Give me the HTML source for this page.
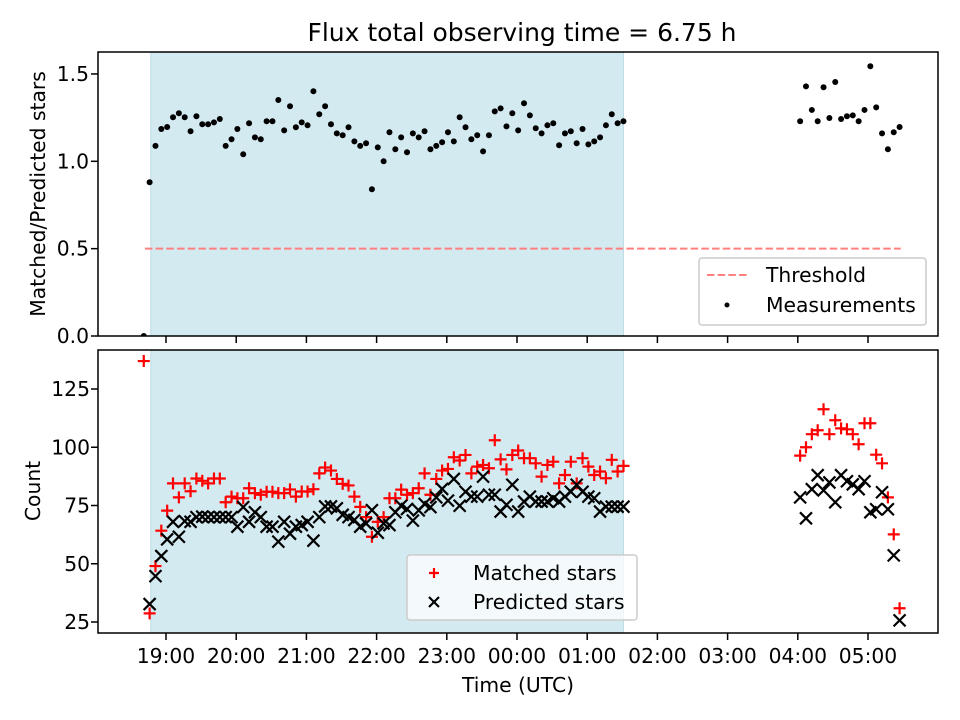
<!DOCTYPE html>
<html><head><meta charset="utf-8"><style>
html,body{margin:0;padding:0;background:#fff;}
svg{display:block;font-family:"DejaVu Sans","Liberation Sans",sans-serif;}
</style></head><body>
<svg id="chart" width="960" height="720" viewBox="0 0 960 720" xmlns="http://www.w3.org/2000/svg">
<rect x="0" y="0" width="960" height="720" fill="#fff"/>
<text x="522" y="41" font-size="25" text-anchor="middle">Flux total observing time = 6.75 h</text>
<g id="top"></g><g id="bot"></g>
</svg>
<script>
// time of each sample, minutes after 18:00 UTC
const times=[41,46,51,56,61,66,71,76,81,86,91,96,101,106,111,116,121,126,131,136,141,146,151,156,161,166,171,176,181,186,191,196,201,206,211,216,221,226,231,236,241,246,251,256,261,266,271,276,281,286,291,296,301,306,311,316,321,326,331,336,341,346,351,356,361,366,371,376,381,386,391,396,401,406,411,416,421,426,431,436,441,446,451,
602,607,612,617,622,627,632,637,642,647,652,657,662,667,672,677,682,687];
const ratio=[0,
0.88,1.088,1.185,1.196,1.252,1.275,1.252,1.172,1.258,1.212,1.212,1.223,1.242,1.088,1.126,1.185,1.040,1.218,1.137,1.126,1.229,1.229,1.351,1.177,1.315,1.195,1.223,1.206,1.401,1.269,1.315,1.212,1.160,1.149,1.195,1.114,1.088,1.103,0.840,1.080,1.000,
1.166,1.069,1.137,1.052,1.160,1.137,1.172,1.069,1.088,1.109,1.166,1.114,1.252,1.195,1.126,1.149,1.057,1.149,1.286,1.303,1.200,1.275,1.177,1.332,1.263,1.189,1.160,1.206,1.218,1.092,1.160,1.172,1.103,1.185,1.097,1.114,1.137,1.206,1.269,1.218,1.229,
1.229,1.429,1.294,1.229,1.424,1.248,1.454,1.242,1.258,1.263,1.229,1.294,1.544,1.309,1.160,1.069,1.166,1.196];
const matched=[137,
28.7,49,64.2,72.8,84.5,78.5,84.5,81.1,86.6,85.6,84.5,86.6,86.6,76.4,78.8,78.1,78.1,82.4,80.3,79.6,80.9,80.9,80.3,80.3,81.9,78.8,81,
81,82,88.8,91.3,90,86.4,84.3,83.6,78.8,74.4,70,61.6,68,70,78.1,78.1,81.8,79.6,80.3,82.4,88.8,79.6,86.4,90,90.7,95.7,94.3,
96.7,88.8,91.7,92.4,91,103,94.8,90.5,96.7,98.6,95.3,95.3,93.1,87.4,92.4,93.8,84.5,88.1,93.8,84.5,95.3,91.7,88.1,89.6,86.7,94.6,89.6,92,
96.4,100,105.6,107.3,116.3,105.6,111.6,108.1,107.7,105.6,101.3,110.3,110.3,96.8,93.1,78.5,62.6,30.9];
const predicted=[null,
32.7,44.7,53.3,60.5,68,61.6,68.3,68,70,70.2,70,70,70,70,70,65.9,74.3,68,72.1,70,65.9,65.9,59.5,68,62.9,65.9,66.6,
68,59.9,70,74.6,74.6,73.8,71,70,68.8,65.9,67.3,73,63.3,67.3,66.6,72.1,74.9,73.5,68.5,72.9,75.7,74.3,78.5,82.1,77.1,86.4,74.9,
80.9,78.8,78.8,87.4,79.6,79.6,72.4,75.3,83.9,72.4,76.7,78.8,76.7,76.7,76.7,78.1,76.7,78.8,80.9,83.9,80.9,78.8,78.1,72.4,74.5,74.5,74.5,74.5,
78.5,69.5,82,88,81.5,84.9,76.4,88,85.4,84.1,82,85.4,72.1,73.4,80.7,73.4,53.6,25.7];
const xTickLabels=["19:00","20:00","21:00","22:00","23:00","00:00","01:00","02:00","03:00","04:00","05:00"];
const xTickMinutes=[60,120,180,240,300,360,420,480,540,600,660];
const topTicks=[0,0.5,1.0,1.5];
const botTicks=[25,50,75,100,125];
const threshold=0.5, thrStart=42, thrEnd=688;
const shadeStart=47, shadeEnd=451;

const NS="http://www.w3.org/2000/svg";
const L=98,R=938,FS=20.3;
function X(m){return 95.8+70.2*m/60;}
function YT(v){return 336-174.7*v;}
function YB(v){return 622-2.33*(v-25);}
function el(p,tag,at,txt){const e=document.createElementNS(NS,tag);for(const k in at)e.setAttribute(k,at[k]);if(txt!==undefined)e.textContent=txt;p.appendChild(e);return e;}

function axesFrame(g,top,bot,name){
  const r=el(g,'rect',{x:L,y:top,width:R-L,height:bot-top,fill:'none',stroke:'#000','stroke-width':1.5});
  
  
  xTickMinutes.forEach((m)=>{const t=el(g,'line',{x1:X(m),x2:X(m),y1:bot,y2:bot+7,stroke:'#000','stroke-width':1.5});
    
    });
}
function shade(g,top,bot){
  const s=el(g,'rect',{x:X(shadeStart),y:top,width:X(shadeEnd)-X(shadeStart),height:bot-top,fill:'#d4eaf1',stroke:'#bcdce6','stroke-width':1});
  
  
}
// TOP
const gt=document.getElementById('top');
const tTop=52,tBot=336;
shade(gt,tTop,tBot);
const thr=el(gt,'line',{x1:X(thrStart),x2:X(thrEnd),y1:YT(threshold),y2:YT(threshold),stroke:'#ff8080','stroke-width':2,'stroke-dasharray':'7.5,3.2'});


const clipT=el(gt,'clipPath',{id:'ct'});el(clipT,'rect',{x:L,y:tTop,width:R-L,height:tBot-tTop});
const pts=el(gt,'g',{'clip-path':'url(#ct)'});
times.forEach((m,i)=>{const c=el(pts,'circle',{cx:X(m),cy:YT(ratio[i]),r:3,fill:'#000'});
  
  });
axesFrame(gt,tTop,tBot,'top-axes');
topTicks.forEach(v=>{const y=YT(v);el(gt,'line',{x1:L-7,x2:L,y1:y,y2:y,stroke:'#000','stroke-width':1.5});
  const t=el(gt,'text',{x:L-9,y:y+7,'font-size':FS,'text-anchor':'end'},v.toFixed(1));
  
  });
const yl1=el(gt,'text',{x:0,y:0,'font-size':FS,'text-anchor':'middle',transform:'translate(45,194) rotate(-90)'},'Matched/Predicted stars');


// top legend
const lg1=el(gt,'g',{});


el(lg1,'rect',{x:699,y:258,width:227,height:67,rx:3,fill:'#fff','fill-opacity':0.85,stroke:'#ccc','stroke-width':1.5});
el(lg1,'line',{x1:707,x2:747,y1:275,y2:275,stroke:'#ff8080','stroke-width':2,'stroke-dasharray':'7.5,3.2'});
el(lg1,'text',{x:766,y:282,'font-size':FS},'Threshold');
el(lg1,'circle',{cx:727,cy:305,r:2.5,fill:'#000'});
el(lg1,'text',{x:766,y:312,'font-size':FS},'Measurements');

// BOTTOM
const gb=document.getElementById('bot');
const bTop=350,bBot=633;
shade(gb,bTop,bBot);
const clipB=el(gb,'clipPath',{id:'cb'});el(clipB,'rect',{x:L,y:bTop,width:R-L,height:bBot-bTop});
const mk=el(gb,'g',{'clip-path':'url(#cb)'});
times.forEach((m,i)=>{const x=X(m),y=YB(matched[i]),s=6;
  const p=el(mk,'path',{d:`M${x-s} ${y}H${x+s}M${x} ${y-s}V${y+s}`,stroke:'#f00','stroke-width':2.2,fill:'none'});
  
  });
times.forEach((m,i)=>{if(predicted[i]===null)return;const x=X(m),y=YB(predicted[i]),s=6;
  const p=el(mk,'path',{d:`M${x-s} ${y-s}L${x+s} ${y+s}M${x-s} ${y+s}L${x+s} ${y-s}`,stroke:'#000','stroke-width':2.2,fill:'none'});
  
  });
axesFrame(gb,bTop,bBot,'bottom-axes');
botTicks.forEach(v=>{const y=YB(v);el(gb,'line',{x1:L-7,x2:L,y1:y,y2:y,stroke:'#000','stroke-width':1.5});
  const t=el(gb,'text',{x:L-8,y:y+7,'font-size':FS,'text-anchor':'end'},String(v));
  
  });
xTickMinutes.forEach((m,i)=>{const t=el(gb,'text',{x:X(m),y:663,'font-size':FS,'text-anchor':'middle'},xTickLabels[i]);
  
  });
const xl=el(gb,'text',{x:518,y:692,'font-size':FS,'text-anchor':'middle'},'Time (UTC)');


const yl2=el(gb,'text',{x:0,y:0,'font-size':FS,'text-anchor':'middle',transform:'translate(40,491) rotate(-90)'},'Count');


const lg2=el(gb,'g',{});


el(lg2,'rect',{x:407,y:555,width:230,height:65,rx:3,fill:'#fff','fill-opacity':0.75,stroke:'#ccc','stroke-width':1.5});
el(lg2,'path',{d:'M429 573H439M434 568V578',stroke:'#f00','stroke-width':2.2});
el(lg2,'text',{x:473,y:580,'font-size':FS},'Matched stars');
el(lg2,'path',{d:'M429 597L439 607M429 607L439 597',stroke:'#000','stroke-width':2.2});
el(lg2,'text',{x:473,y:609,'font-size':FS},'Predicted stars');
</script>
</body></html>
